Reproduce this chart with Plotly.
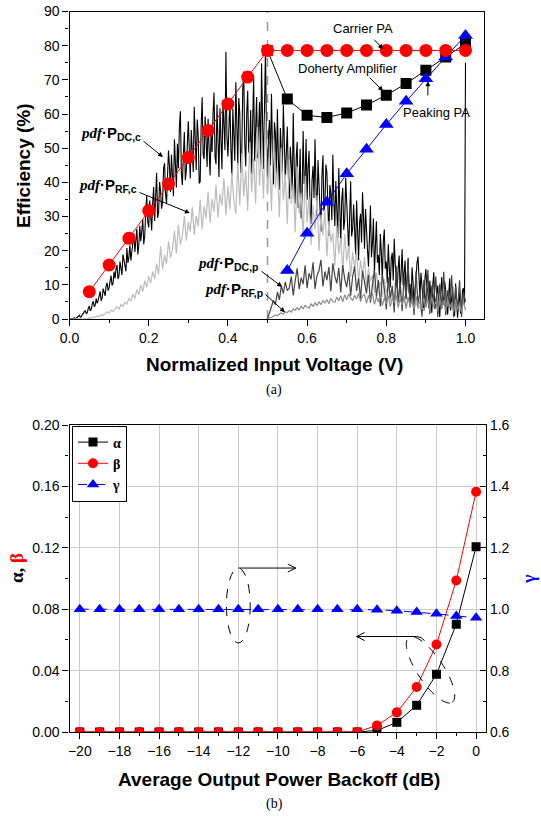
import math
import plotly.graph_objects as go

# ---------------- (a) data ----------------
v_carrier = [0.05, 0.10, 0.15, 0.20, 0.25, 0.30, 0.35, 0.40, 0.45, 0.50,
             0.55, 0.60, 0.65, 0.70, 0.75, 0.80, 0.85, 0.90, 0.95, 1.00]
eff_carrier = [8.0, 15.8, 23.6, 31.7, 39.5, 47.3, 55.2, 62.9, 70.8, 78.6,
               78.6, 78.6, 78.6, 78.6, 78.6, 78.6, 78.6, 78.6, 78.6, 78.6]
v_doherty = [0.50, 0.55, 0.60, 0.65, 0.70, 0.75, 0.80, 0.85, 0.90, 0.95, 1.00]
eff_doherty = [78.6, 64.4, 59.6, 59.0, 60.3, 62.6, 65.5, 68.9, 72.8, 76.7, 80.6]
v_peaking = [0.55, 0.60, 0.65, 0.70, 0.75, 0.80, 0.85, 0.90, 0.95, 1.00]
eff_peaking = [14.2, 25.1, 34.2, 42.5, 49.7, 56.9, 63.7, 70.3, 76.7, 83.0]

# pdf-weighted power curves (sampled on a fixed voltage grid)
pdf_dc_c_start, pdf_dc_c_step = 0.0, 0.0025
pdf_dc_c = [
    0, 0, 0, 0.1, 0.2, 0.4, 0.1, 0.3, 0.6, 0.9, 1.1, 0.5, 0.7, 1.4, 1.6, 2.2, 2.4, 1.5, 1.9, 3.1,
    3.8, 2.4, 2.9, 4.4, 5.2, 3.6, 4.1, 6.0, 4.6, 5.5, 7.0, 8.1, 5.3, 6.2, 8.9, 7.4, 6.8, 9.7, 10.6, 8.3,
    9.1, 11.0, 12.7, 9.8, 10.4, 13.9, 11.9, 14.6, 15.8, 11.7, 12.6, 16.8, 14.1, 12.9, 18.9, 17.2, 15.3, 14.0, 20.8, 16.4,
    18.2, 21.6, 17.1, 20.3, 23.9, 25.1, 19.6, 22.4, 26.4, 18.9, 21.5, 27.3, 22.8, 25.7, 29.1, 21.9, 24.3, 31.4, 36.2, 28.5,
    26.8, 34.7, 30.4, 25.9, 33.9, 38.6, 28.7, 35.2, 42.8, 29.6, 31.2, 40.1, 37.5, 32.3, 34.1, 43.9, 45.6, 36.8, 33.6, 41.7,
    49.3, 44.6, 37.2, 48.1, 41.8, 35.9, 52.6, 46.4, 38.5, 51.3, 44.1, 56.2, 60.8, 42.7, 39.2, 47.8, 54.7, 40.6, 43.5, 50.9,
    57.9, 49.5, 41.1, 55.3, 47.3, 43.0, 62.1, 51.7, 43.6, 58.4, 53.8, 39.7, 40.2, 56.6, 64.9, 48.2, 46.8, 59.3, 51.2, 44.5,
    58.6, 50.8, 42.0, 53.9, 48.9, 60.2, 66.3, 47.5, 45.3, 62.8, 55.1, 41.6, 61.7, 52.3, 43.8, 64.1, 57.0, 49.4, 78.2, 53.5,
    47.6, 58.0, 63.9, 50.2, 41.9, 61.5, 52.4, 46.3, 69.3, 55.8, 45.0, 64.7, 60.2, 42.8, 48.4, 67.1, 72.4, 51.6, 44.7, 59.9,
    66.8, 48.7, 50.3, 61.2, 42.6, 57.4, 70.9, 46.2, 55.4, 65.0, 47.1, 53.6, 63.5, 44.8, 74.8, 58.3, 43.9, 62.4, 79.6, 50.7,
    41.5, 53.7, 58.2, 44.9, 65.9, 50.1, 39.4, 57.6, 54.3, 42.2, 61.4, 47.0, 37.8, 55.9, 49.6, 43.1, 62.7, 51.4, 40.9, 48.3,
    56.3, 42.5, 35.2, 50.4, 45.7, 37.3, 60.3, 44.1, 33.8, 47.2, 51.9, 32.5, 38.6, 49.8, 29.4, 36.7, 55.0, 39.5, 41.3, 52.7,
    34.9, 44.3, 49.2, 32.0, 27.8, 40.6, 44.8, 35.4, 52.6, 38.2, 30.1, 46.5, 39.7, 29.3, 25.6, 41.9, 47.9, 31.6, 33.5, 45.2,
    42.7, 33.1, 24.3, 39.2, 36.8, 28.9, 48.1, 35.0, 27.2, 40.4, 31.9, 23.8, 44.2, 30.5, 21.7, 34.9, 38.4, 26.1, 29.0, 41.3,
    35.6, 27.1, 19.8, 31.7, 40.3, 24.2, 26.4, 33.5, 23.1, 18.9, 34.7, 25.8, 17.2, 28.3, 30.8, 22.4, 37.1, 29.6, 20.6, 32.2,
    27.9, 20.4, 15.3, 25.7, 33.2, 18.1, 22.0, 29.4, 13.4, 21.2, 28.6, 16.5, 18.7, 12.9, 24.9, 19.3, 11.6, 22.8, 26.2, 14.7,
    16.8, 10.5, 21.9, 15.2, 9.2, 17.7, 19.4, 11.3, 23.5, 16.0, 12.1, 8.4, 14.9, 18.6, 7.3, 13.0, 20.4, 9.9, 13.6, 17.1,
    5.8, 12.4, 17.9, 7.6, 10.2, 4.3, 15.1, 11.0, 3.9, 8.2, 12.8, 16.4, 18.3, 9.1, 6.7, 13.5, 9.6, 5.2, 2.4, 11.7,
    14.6, 9.3, 7.9, 3.1, 11.2, 6.5, 1.8, 10.1, 13.7, 2.9, 5.4, 8.8, 9.8, 4.0, 0.6, 7.2, 12.3, 6.0, 4.2, 10.9,
    8.6, 3.7, 1.3, 6.8, 11.9, 2.5, 6.1, 9.4, 3.2, 0.9, 10.4, 5.6, 0.4, 4.8, 7.8, 1.6, 2.7, 8.3, 9.1, 4.4,
    75.0]
pdf_rf_c_start, pdf_rf_c_step = 0.0, 0.005
pdf_rf_c = [
    0, 0, 0, 0, 0, 0, 0, 0, 0.1, 0.1,
    0.3, 0.2, 0.6, 0.5, 0.9, 0.7, 1.3, 1.1, 1.5, 2.1,
    1.7, 2.6, 2.2, 3.1, 3.6, 2.8, 4.3, 3.7, 4.9, 4.4,
    6.1, 5.2, 7.3, 6.0, 8.6, 7.1, 9.9, 8.0, 11.2, 9.3,
    12.6, 10.5, 13.9, 11.8, 16.2, 13.0, 21.3, 14.6, 18.8, 16.1,
    22.7, 17.9, 20.4, 25.8, 19.2, 27.6, 21.8, 24.3, 30.1, 22.9,
    28.4, 25.6, 32.8, 24.7, 30.2, 27.1, 34.9, 26.3, 33.0, 29.5,
    37.2, 28.1, 35.1, 31.4, 39.3, 29.7, 36.6, 33.2, 41.2, 30.4,
    38.9, 32.1, 42.8, 34.6, 30.8, 45.7, 33.3, 48.6, 35.9, 43.4,
    31.7, 51.8, 37.1, 46.9, 33.8, 56.2, 39.0, 49.7, 35.2, 60.3,
    36.4, 47.2, 31.6, 52.9, 38.3, 44.6, 29.8, 50.1, 34.7, 42.3,
    27.9, 46.8, 33.6, 39.8, 25.4, 44.7, 30.9, 36.9, 23.8, 41.9,
    28.2, 35.7, 21.6, 33.4, 26.1, 36.2, 19.9, 30.6, 24.4, 31.8,
    18.3, 28.7, 22.5, 25.1, 15.6, 27.4, 19.0, 23.7, 13.8, 24.9,
    16.9, 21.4, 12.3, 19.6, 14.8, 20.3, 10.7, 17.2, 12.9, 18.1,
    9.4, 14.9, 11.1, 12.8, 7.6, 13.5, 9.2, 11.0, 6.4, 11.7,
    7.8, 9.5, 5.3, 8.4, 6.2, 8.9, 4.6, 7.3, 5.1, 6.8,
    3.4, 5.9, 4.0, 5.2, 2.6, 4.8, 3.1, 3.7, 1.8, 3.2]
pdf_dc_p_start, pdf_dc_p_step = 0.5, 0.005
pdf_dc_p = [
    0, 1.8, 3.1, 5.4, 4.2, 7.9, 5.6, 9.8, 7.4, 10.9,
    8.3, 9.1, 12.4, 6.9, 11.3, 14.8, 8.7, 12.1, 10.2, 15.7,
    9.0, 13.4, 11.6, 16.6, 8.8, 12.7, 14.2, 17.3, 9.5, 13.9,
    11.4, 15.2, 8.1, 16.3, 12.6, 10.4, 14.9, 7.8, 15.8, 11.7,
    9.3, 13.8, 6.8, 12.5, 15.4, 8.2, 11.9, 5.9, 14.1, 10.6,
    7.5, 12.9, 4.8, 9.9, 14.3, 6.4, 11.4, 3.7, 13.0, 8.9,
    2.8, 12.2, 6.1, 9.7, 1.9, 15.6, 5.0, 10.8, 2.3, 12.6,
    6.2, 16.8, 3.4, 9.3, 1.2, 13.9, 4.4, 8.1, 0.7, 11.5,
    3.8, 14.3, 1.4, 9.8, 5.1, 12.4, 0.6, 10.3, 2.9, 13.8,
    1.1, 8.4, 4.2, 12.8, 0.5, 9.4, 2.4, 11.3, 0.6, 7.9,
    5.0]
pdf_rf_p_start, pdf_rf_p_step = 0.5, 0.005
pdf_rf_p = [
    0, 0.4, 0.5, 0.9, 1.1, 1.0, 1.5, 1.8, 1.4, 2.1,
    1.9, 2.5, 2.0, 2.9, 2.6, 3.3, 2.7, 3.7, 3.0, 4.0,
    3.5, 3.2, 4.4, 3.7, 4.8, 3.9, 5.1, 4.2, 5.4, 4.7,
    5.7, 4.5, 6.0, 5.1, 4.9, 6.4, 5.3, 6.8, 5.0, 7.1,
    5.6, 7.3, 6.1, 5.4, 7.0, 5.8, 7.5, 5.1, 6.7, 7.2,
    4.6, 6.9, 5.5, 7.6, 4.3, 6.5, 5.0, 7.2, 3.9, 6.2,
    4.4, 6.9, 3.6, 6.1, 4.8, 7.0, 3.3, 5.9, 4.1, 6.6,
    3.0, 6.4, 3.9, 5.7, 2.9, 6.7, 3.4, 5.3, 2.7, 6.2,
    3.3, 5.8, 2.6, 6.5, 3.5, 5.2, 2.4, 6.1, 3.0, 5.5,
    2.3, 5.9, 3.1, 4.8, 2.2, 5.7, 2.8, 4.6, 2.0, 5.4,
    2.5]

x_ticks_a = [0.0, 0.2, 0.4, 0.6, 0.8, 1.0]
y_ticks_a = [0, 10, 20, 30, 40, 50, 60, 70, 80, 90]

# ---------------- (b) data ----------------
backoff_db = [-20, -19, -18, -17, -16, -15, -14, -13, -12, -11, -10,
              -9, -8, -7, -6, -5, -4, -3, -2, -1, 0]
alpha = [0, 0, 0, 0, 0, 0, 0, 0, 0, 0, 0,
         0, 0, 0, 0, 0.001, 0.0063, 0.0174, 0.0376, 0.0702, 0.1207]
beta = [0, 0, 0, 0, 0, 0, 0, 0, 0, 0, 0,
        0, 0, 0, 0, 0.0043, 0.0128, 0.0293, 0.057, 0.0987, 0.1565]
gamma = [1.0, 1.0, 1.0, 1.0, 1.0, 1.0, 1.0, 1.0, 1.0, 1.0, 1.0,
         1.0, 1.0, 1.0, 1.0, 0.998, 0.995, 0.991, 0.985, 0.978, 0.972]
x_ticks_b = [-20, -18, -16, -14, -12, -10, -8, -6, -4, -2, 0]
y_ticks_b_left = [0.00, 0.04, 0.08, 0.12, 0.16, 0.20]
y_ticks_b_right = [0.6, 0.8, 1.0, 1.2, 1.4, 1.6]

# ---------------- layout helpers ----------------
W, H = 541, 816
def px(x):
    return x / W
def py(y):
    return 1 - y / H

A_L, A_R, A_T, A_B = 69.5, 484, 11.5, 319
B_L, B_R, B_T, B_B = 69.5, 486, 425, 732
XA_RANGE = [0, (A_R - A_L) / 396.0]
XB_RANGE = [-20.52, 0.5]

SANS = "Liberation Sans, Arial, sans-serif"
SERIF = "Liberation Serif, Times New Roman, serif"

fig = go.Figure()

def grid(start, step, vals):
    return [round(start + i * step, 5) for i in range(len(vals))]

# pdf curves
fig.add_trace(go.Scatter(x=grid(pdf_dc_c_start, pdf_dc_c_step, pdf_dc_c), y=pdf_dc_c,
                         mode="lines", line=dict(color="#000000", width=1.1),
                         showlegend=False, xaxis="x", yaxis="y"))
fig.add_trace(go.Scatter(x=grid(pdf_rf_c_start, pdf_rf_c_step, pdf_rf_c), y=pdf_rf_c,
                         mode="lines", line=dict(color="#bdbdbd", width=1.2),
                         showlegend=False, xaxis="x", yaxis="y"))
fig.add_trace(go.Scatter(x=grid(pdf_dc_p_start, pdf_dc_p_step, pdf_dc_p), y=pdf_dc_p,
                         mode="lines", line=dict(color="#454545", width=1.2),
                         showlegend=False, xaxis="x", yaxis="y"))
fig.add_trace(go.Scatter(x=grid(pdf_rf_p_start, pdf_rf_p_step, pdf_rf_p), y=pdf_rf_p,
                         mode="lines", line=dict(color="#8c8c8c", width=1.2),
                         showlegend=False, xaxis="x", yaxis="y"))

# efficiency curves
fig.add_trace(go.Scatter(x=v_doherty, y=eff_doherty, mode="lines+markers",
                         line=dict(color="black", width=1),
                         marker=dict(symbol="square", size=11,
                                     color=["red"] + ["black"] * (len(v_doherty) - 1)),
                         showlegend=False, xaxis="x", yaxis="y"))
fig.add_trace(go.Scatter(x=v_peaking, y=eff_peaking, mode="lines+markers",
                         line=dict(color="blue", width=1),
                         marker=dict(symbol="triangle-up", size=13, color="blue"),
                         showlegend=False, xaxis="x", yaxis="y"))
fig.add_trace(go.Scatter(x=v_carrier, y=eff_carrier, mode="lines+markers",
                         line=dict(color="red", width=1),
                         marker=dict(symbol="circle", size=13, color="red"),
                         showlegend=False, xaxis="x", yaxis="y"))

# (b) traces
fig.add_trace(go.Scatter(x=backoff_db, y=alpha, mode="lines+markers", name="<b>α</b>",
                         line=dict(color="black", width=1),
                         marker=dict(symbol="square", size=9, color="black"),
                         xaxis="x2", yaxis="y2"))
fig.add_trace(go.Scatter(x=backoff_db, y=beta, mode="lines+markers", name="<b>β</b>",
                         line=dict(color="red", width=1),
                         marker=dict(symbol="circle", size=10, color="red"),
                         xaxis="x2", yaxis="y2"))
fig.add_trace(go.Scatter(x=backoff_db, y=gamma, mode="lines+markers", name="<b>γ</b>",
                         line=dict(color="blue", width=1, dash="dash"),
                         marker=dict(symbol="triangle-up", size=11, color="blue"),
                         xaxis="x2", yaxis="y3"))

axis_common = dict(showline=True, linecolor="black", linewidth=1.3, ticks="outside",
                   tickcolor="black", ticklen=6, tickwidth=1,
                   tickfont=dict(family=SANS, size=14, color="black"),
                   zeroline=False)

fig.update_layout(
    width=W, height=H, margin=dict(l=0, r=0, t=0, b=0, autoexpand=False),
    paper_bgcolor="white", plot_bgcolor="white",
    xaxis=dict(domain=[px(A_L), px(A_R)], range=XA_RANGE, anchor="y",
               tickvals=x_ticks_a, ticktext=["%.1f" % v for v in x_ticks_a],
               mirror=True, showgrid=False,
               minor=dict(dtick=0.1, ticklen=3, ticks="outside", tickcolor="black"),
               **axis_common),
    yaxis=dict(domain=[py(A_B), py(A_T)], range=[0, 90], anchor="x",
               tickvals=y_ticks_a, mirror=True, showgrid=False,
               minor=dict(dtick=5, ticklen=3, ticks="outside", tickcolor="black"),
               **axis_common),
    xaxis2=dict(domain=[px(B_L), px(B_R)], range=XB_RANGE, anchor="y2",
                tickvals=x_ticks_b, mirror=True, showgrid=True,
                gridcolor="#cccccc", gridwidth=1,
                minor=dict(dtick=1, ticklen=3, ticks="outside", tickcolor="black"),
                **axis_common),
    yaxis2=dict(domain=[py(B_B), py(B_T)], range=[0, 0.2], anchor="x2",
                tickvals=y_ticks_b_left, ticktext=["%.2f" % v for v in y_ticks_b_left],
                showgrid=True, gridcolor="#cccccc", gridwidth=1,
                minor=dict(dtick=0.02, ticklen=3, ticks="outside", tickcolor="black"),
                **axis_common),
    yaxis3=dict(overlaying="y2", side="right", range=[0.6, 1.6], anchor="x2",
                tickvals=y_ticks_b_right, ticktext=["%.1f" % v for v in y_ticks_b_right],
                showline=True, linecolor="black", linewidth=1.3, ticks="inside",
                tickcolor="black", ticklen=6, showgrid=False, zeroline=False,
                tickfont=dict(family=SANS, size=14, color="black"),
                minor=dict(dtick=0.1, ticklen=3, ticks="inside", tickcolor="black")),
    legend=dict(x=px(72), y=py(425.5), xanchor="left", yanchor="top",
                bordercolor="black", borderwidth=1, bgcolor="white",
                font=dict(family=SERIF, size=14, color="black"),
                tracegroupgap=0, itemwidth=30),
    showlegend=True,
)

# vertical dashed line at 0.5
fig.add_shape(type="line", xref="x", yref="y", x0=0.5, x1=0.5, y0=0, y1=90,
              line=dict(color="#999999", width=1.5, dash="dash"), layer="below")

annos = []
def text_px(x, y, text, size=16, family=SANS, angle=0, xanchor="center", color="black"):
    annos.append(dict(x=px(x), y=py(y), xref="paper", yref="paper", text=text,
                      showarrow=False, textangle=angle, xanchor=xanchor, yanchor="middle",
                      font=dict(family=family, size=size, color=color)))

def arrow(xref, yref, x0, y0, x1, y1, head=2):
    annos.append(dict(x=x1, y=y1, ax=x0, ay=y0, xref=xref, yref=yref,
                      axref=xref, ayref=yref, text="", showarrow=True,
                      arrowhead=head, arrowsize=1, arrowwidth=1, arrowcolor="black",
                      standoff=0, startstandoff=0))

# axis titles
text_px(24, 166, "<b>Efficiency (%)</b>", 19, angle=-90)
text_px(274, 364, "<b>Normalized Input Voltage (V)</b>", 19)
text_px(274, 390, "(a)", 14, family=SERIF)
text_px(279, 779, "<b>Average Output Power Backoff (dB)</b>", 19)
text_px(274, 804, "(b)", 14, family=SERIF)
text_px(16, 568, '<b>α, <span style="color:red">β</span></b>', 19, family=SERIF, angle=-90)
text_px(529, 579, "<b>γ</b>", 18, family=SERIF, angle=-90, color="blue")

# (a) labels
text_px(363, 29, "Carrier PA", 13)
text_px(348, 68, "Doherty Amplifier", 13)
text_px(436, 113, "Peaking PA", 13)
arrow("x", "y", 0.766, 82.2, 0.792, 79.0)
arrow("x", "y", 0.754, 71.1, 0.792, 66.7)
arrow("x", "y", 0.905, 65.0, 0.905, 69.6)

def pdf_label(sub):
    return ('<span style="font-family:Liberation Serif"><b><i>pdf</i></b></span>'
            '<b>·P<sub>%s</sub></b>' % sub)
text_px(143, 134, pdf_label("DC,c"), 15, xanchor="right")
text_px(139, 186, pdf_label("RF,c"), 15, xanchor="right")
text_px(261, 264, pdf_label("DC,p"), 15, xanchor="right")
text_px(265, 289, pdf_label("RF,p"), 15, xanchor="right")
arrow("x", "y", 0.183, 52.4, 0.236, 47.4)
arrow("x", "y", 0.173, 37.2, 0.304, 31.0)
arrow("x", "y", 0.481, 14.3, 0.537, 9.4)
arrow("x", "y", 0.491, 7.6, 0.544, 2.0)

# (b) ellipses and open arrows
px_per_db = (B_R - B_L) / (XB_RANGE[1] - XB_RANGE[0])
px_per_unit = (B_B - B_T) / 0.2
hx = 8.0 / px_per_db
hy = 4.0 / px_per_unit

fig.add_shape(type="circle", xref="x2", yref="y2", x0=-12.6, x1=-11.4,
              y0=0.058, y1=0.1068, line=dict(color="black", width=1, dash="dash"))
r_y = 0.1068
r_x0, r_x1 = -12.0, -9.1
fig.add_shape(type="path", xref="x2", yref="y2",
              path="M %.4f,%.5f L %.4f,%.5f" % (r_x0, r_y, r_x1, r_y),
              line=dict(color="black", width=1))
fig.add_shape(type="path", xref="x2", yref="y2",
              path="M %.4f,%.5f L %.4f,%.5f L %.4f,%.5f" % (r_x1 - hx, r_y + hy, r_x1, r_y,
                                                              r_x1 - hx, r_y - hy),
              line=dict(color="black", width=1))

cx, cy = -2.3, 0.0405
a_px, b_px = 39.0, 13.0
ux, uy = 0.556, -0.831
vx, vy = -uy, ux
pts = []
for k in range(73):
    t = 2 * math.pi * k / 72
    dx = a_px * math.cos(t) * ux + b_px * math.sin(t) * vx
    dy = a_px * math.cos(t) * uy + b_px * math.sin(t) * vy
    pts.append((cx + dx / px_per_db, cy + dy / px_per_unit))
path = "M " + " L ".join("%.4f,%.5f" % p for p in pts) + " Z"
fig.add_shape(type="path", xref="x2", yref="y2", path=path,
              line=dict(color="black", width=1, dash="dash"))
l_y = 0.0622
l_x0, l_x1 = -3.0, -6.03
fig.add_shape(type="path", xref="x2", yref="y2",
              path="M %.4f,%.5f L %.4f,%.5f Q %.4f,%.5f %.4f,%.5f" % (
                  l_x1, l_y, l_x0, l_y, -2.75, l_y, -2.6, 0.0595),
              line=dict(color="black", width=1))
fig.add_shape(type="path", xref="x2", yref="y2",
              path="M %.4f,%.5f L %.4f,%.5f L %.4f,%.5f" % (l_x1 + hx, l_y + hy, l_x1, l_y,
                                                              l_x1 + hx, l_y - hy),
              line=dict(color="black", width=1))

fig.update_layout(annotations=annos)
fig.write_html("out.html", config={"displayModeBar": False},
               post_script="document.body.style.margin='0px';document.body.style.padding='0px';")
